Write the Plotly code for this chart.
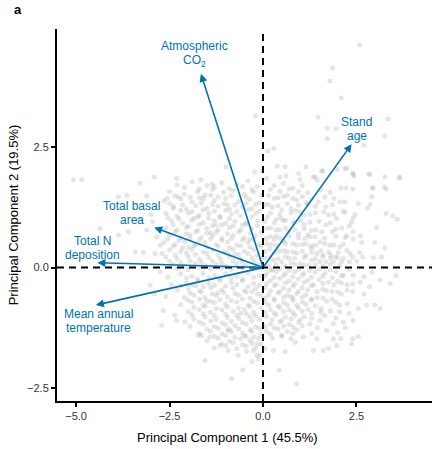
import plotly.graph_objects as go

# ---- PCA scores (gray cloud) ----
score_pairs = [
    # sparse top / outliers
    (2.59, 4.62), (1.86, 4.14), (1.79, 3.87), (2.09, 3.52), (1.47, 3.12), (3.34, 3.08), (-0.21, 3.15),
    (1.71, 2.89), (1.95, 2.88), (1.71, 2.67), (3.26, 2.73), (2.70, 2.54), (0.29, 2.47), (0.13, 2.42),
    (0.59, 2.09), (1.15, 2.09), (-0.22, 1.98), (-0.03, 2.0), (2.40, 1.96), (2.83, 1.94), (3.26, 1.88),
    (3.66, 1.88), (-0.99, 2.09), (-1.36, 1.73), (0.45, 1.88), (0.99, 1.82), (1.39, 1.88), (1.57, 2.01),
    (1.98, 2.04), (2.19, 2.05), (2.43, 1.90), (2.94, 1.65), (3.24, 1.67),
    # upper right
    (1.34, 1.88), (1.45, 1.81), (1.60, 2.0), (2.24, 2.06), (2.41, 1.93), (2.86, 1.93), (3.64, 1.86),
    (2.08, 1.65), (2.22, 1.65), (2.40, 1.63), (2.93, 1.65), (3.29, 1.63), (2.91, 1.47), (2.06, 1.36),
    (2.19, 1.36), (2.55, 1.33), (2.86, 1.31), (2.79, 1.23), (1.48, 1.36), (1.68, 1.26), (2.15, 1.17),
    (1.63, 1.16), (1.75, 1.09), (2.46, 1.10), (2.41, 1.02), (2.37, 0.94), (1.97, 1.02), (3.29, 1.12),
    (3.47, 1.07), (3.59, 1.0), (3.04, 0.83), (1.68, 0.89), (2.10, 0.82), (2.31, 0.86), (1.42, 0.78),
    (1.57, 0.74), (1.86, 0.74), (2.24, 0.66), (2.41, 0.74), (2.61, 0.66), (2.41, 0.59), (2.64, 0.52),
    (2.99, 0.52), (3.26, 0.41), (1.39, 0.64), (1.52, 0.53), (1.79, 0.46), (2.06, 0.43), (2.24, 0.36),
    (2.01, 0.31), (2.33, 0.29), (2.59, 0.31), (1.30, 0.40), (1.44, 0.29), (1.61, 0.26), (1.81, 0.26),
    (1.93, 0.22), (2.15, 0.19), (2.40, 0.22), (2.67, 0.22), (2.95, 0.21), (3.17, 0.22), (1.30, 0.15),
    (1.52, 0.12), (1.68, 0.12), (1.88, 0.12), (2.10, 0.12), (2.31, 0.12), (2.51, 0.13), (2.91, -0.10),
    (3.56, -0.17), (1.39, -0.10), (1.66, -0.12), (1.95, -0.09), (2.15, -0.16), (2.41, -0.16),
    # upper, x 0..1.3
    (0.1, 1.85), (0.3, 1.7), (0.55, 1.75), (0.8, 1.65), (1.05, 1.7), (1.2, 1.55), (0.15, 1.5),
    (0.4, 1.45), (0.65, 1.5), (0.9, 1.4), (1.15, 1.35), (0.05, 1.3), (0.25, 1.25), (0.5, 1.2),
    (0.75, 1.22), (1.0, 1.15), (1.25, 1.1), (0.12, 1.05), (0.35, 1.0), (0.6, 0.98), (0.85, 0.95),
    (1.1, 0.9), (0.2, 0.82), (0.45, 0.78), (0.7, 0.75), (0.95, 0.7), (1.2, 0.68), (0.08, 0.6),
    (0.3, 0.58), (0.55, 0.55), (0.8, 0.5), (1.05, 0.48), (1.28, 0.45), (0.18, 0.38), (0.42, 0.35),
    (0.65, 0.32), (0.9, 0.3), (1.15, 0.25), (0.05, 0.2), (0.28, 0.15), (0.5, 0.12), (0.75, 0.1),
    (1.0, 0.08), (1.22, 0.05), (0.15, 0.03), (0.62, 1.9), (0.38, 2.1), (0.95, 1.95), (0.7, 0.2),
    (0.35, 0.65), (0.48, 1.02), (0.88, 1.18), (0.22, 0.48), (1.12, 0.6),
    # upper right, interleaved
    (0.2, 1.62), (0.45, 1.58), (0.7, 1.63), (0.95, 1.57), (1.55, 1.61), (1.8, 1.56),
    (0.3, 1.44), (0.55, 1.48), (0.8, 1.43), (1.05, 1.47), (1.3, 1.42), (1.65, 1.46), (1.9, 1.43),
    (0.15, 1.31), (0.4, 1.28), (0.65, 1.33), (0.95, 1.29), (1.2, 1.32), (1.4, 1.27), (1.85, 1.31),
    (0.2, 1.13), (0.45, 1.10), (0.75, 1.14), (1.1, 1.09), (1.4, 1.13), (1.9, 1.11), (2.2, 1.14),
    (0.05, 0.96), (0.3, 0.93), (0.55, 0.97), (0.8, 0.92), (1.0, 0.97), (1.25, 0.94), (1.5, 0.96), (1.8, 0.93),
    (0.1, 0.81), (0.35, 0.78), (0.6, 0.82), (0.85, 0.79), (1.1, 0.81), (1.3, 0.77), (1.95, 0.80),
    (0.2, 0.64), (0.45, 0.61), (0.7, 0.65), (0.95, 0.62), (1.25, 0.64), (1.65, 0.61), (1.95, 0.65), (2.2, 0.62),
    (0.1, 0.49), (0.35, 0.46), (0.6, 0.50), (0.9, 0.47), (1.15, 0.49), (1.4, 0.46), (1.65, 0.50),
    (1.9, 0.47), (2.15, 0.49), (0.05, 0.34), (0.3, 0.31), (0.55, 0.35), (0.8, 0.32), (1.05, 0.34),
    (1.3, 0.31), (1.55, 0.35), (1.75, 0.32), (0.2, 0.21), (0.4, 0.18), (0.6, 0.22), (0.85, 0.19),
    (1.1, 0.21), (1.4, 0.18), (1.6, 0.22), (1.8, 0.19), (2.0, 0.21), (0.35, 0.06), (0.6, 0.03),
    (0.85, 0.07), (1.1, 0.04), (1.4, 0.06), (1.6, 0.03), (1.8, 0.07), (2.05, 0.04),
    # upper left sparse
    (-5.07, 1.82), (-4.85, 1.82), (-3.29, 1.75), (-2.91, 1.88), (-2.31, 1.85), (-3.87, 1.47),
    (-3.64, 1.50), (-3.11, 1.49), (-2.57, 1.43), (-2.26, 1.47), (-2.40, 1.23), (-4.36, 0.81),
    (-3.60, 0.74), (-3.87, 0.67), (-3.11, 0.78), (-3.42, 0.32), (-3.20, 0.31), (-2.89, 0.29),
    (-2.75, 0.46), (-2.84, 0.64), (-2.75, -0.09), (-1.66, 1.82), (-3.0, 1.1), (-3.3, 1.0), (-2.95, 0.95),
    # upper left dense
    (-2.3, 1.72), (-1.9, 1.78), (-1.5, 1.70), (-1.1, 1.76), (-0.7, 1.73), (-0.4, 1.80), (-0.15, 1.68),
    (-2.5, 1.57), (-2.1, 1.52), (-1.75, 1.58), (-1.4, 1.50), (-1.05, 1.56), (-0.8, 1.60), (-0.5, 1.52),
    (-0.25, 1.57), (-2.65, 1.38), (-2.2, 1.42), (-1.9, 1.36), (-1.6, 1.43), (-1.3, 1.39), (-1.0, 1.44),
    (-0.65, 1.37), (-0.35, 1.41), (-0.1, 1.35), (-2.4, 1.27), (-2.05, 1.22), (-1.8, 1.28), (-1.5, 1.23),
    (-1.2, 1.27), (-0.9, 1.21), (-0.55, 1.26), (-0.3, 1.22), (-2.6, 1.12), (-2.3, 1.07), (-2.0, 1.13),
    (-1.7, 1.08), (-1.45, 1.12), (-1.15, 1.06), (-0.85, 1.11), (-0.6, 1.07), (-0.2, 1.12),
    (-2.45, 0.97), (-2.15, 0.92), (-1.9, 0.98), (-1.6, 0.93), (-1.3, 0.97), (-1.0, 0.92),
    (-0.75, 0.96), (-0.45, 0.93), (-0.15, 0.97), (-2.6, 0.82), (-2.3, 0.78), (-2.05, 0.83),
    (-1.75, 0.77), (-1.5, 0.81), (-1.2, 0.78), (-0.9, 0.83), (-0.6, 0.78), (-0.3, 0.81),
    (-2.5, 0.67), (-2.2, 0.62), (-1.95, 0.68), (-1.65, 0.63), (-1.35, 0.66), (-1.1, 0.61),
    (-0.8, 0.67), (-0.5, 0.62), (-0.2, 0.66), (-2.65, 0.52), (-2.35, 0.48), (-2.1, 0.53),
    (-1.8, 0.47), (-1.55, 0.52), (-1.25, 0.48), (-0.95, 0.53), (-0.7, 0.47), (-0.4, 0.52),
    (-0.1, 0.48), (-2.5, 0.37), (-2.2, 0.33), (-1.9, 0.38), (-1.6, 0.32), (-1.35, 0.36),
    (-1.05, 0.33), (-0.8, 0.38), (-0.5, 0.33), (-0.25, 0.37), (-2.6, 0.22), (-2.3, 0.18),
    (-2.0, 0.23), (-1.7, 0.17), (-1.45, 0.21), (-1.15, 0.18), (-0.9, 0.23), (-0.6, 0.17),
    (-0.3, 0.21), (-0.05, 0.18), (-2.4, 0.07), (-2.1, 0.03), (-1.8, 0.08), (-1.55, 0.04),
    (-1.25, 0.07), (-1.0, 0.03), (-0.7, 0.08), (-0.45, 0.04), (-0.15, 0.07),
    (-1.35, 1.62), (-0.95, 1.30), (-1.85, 1.02), (-0.55, 0.88), (-1.4, 0.72), (-2.0, 0.42),
    (-0.75, 0.28), (-1.7, 1.45), (-1.25, 0.88), (-0.35, 0.58),
    # upper left, interleaved
    (-2.1, 1.66), (-1.7, 1.63), (-1.3, 1.67), (-0.9, 1.64), (-0.55, 1.68), (-0.3, 1.62),
    (-2.35, 1.49), (-1.95, 1.46), (-1.55, 1.50), (-1.2, 1.47), (-0.85, 1.49), (-0.45, 1.46), (-0.05, 1.50),
    (-2.5, 1.33), (-2.15, 1.30), (-1.65, 1.34), (-1.35, 1.31), (-1.05, 1.33), (-0.75, 1.30),
    (-0.45, 1.34), (-0.2, 1.31), (-2.2, 1.19), (-1.9, 1.16), (-1.6, 1.20), (-1.3, 1.17),
    (-1.0, 1.19), (-0.7, 1.16), (-0.4, 1.20), (-0.1, 1.17), (-2.55, 1.04), (-2.25, 1.01),
    (-1.75, 1.05), (-1.45, 1.02), (-1.15, 1.04), (-0.9, 1.01), (-0.3, 1.05), (-2.4, 0.89),
    (-2.0, 0.86), (-1.7, 0.90), (-1.35, 0.87), (-1.1, 0.89), (-0.8, 0.86), (-0.45, 0.90),
    (-0.15, 0.87), (-2.35, 0.73), (-2.05, 0.70), (-1.8, 0.74), (-1.5, 0.71), (-1.25, 0.73),
    (-0.95, 0.70), (-0.65, 0.74), (-0.35, 0.71), (-0.05, 0.73), (-2.55, 0.59), (-2.25, 0.56),
    (-1.95, 0.60), (-1.7, 0.57), (-1.4, 0.59), (-1.1, 0.56), (-0.85, 0.60), (-0.55, 0.57),
    (-0.25, 0.59), (-2.4, 0.44), (-2.15, 0.41), (-1.85, 0.45), (-1.5, 0.42), (-1.2, 0.44),
    (-0.9, 0.41), (-0.6, 0.45), (-0.35, 0.42), (-0.05, 0.44), (-2.7, 0.29), (-2.35, 0.26),
    (-2.05, 0.30), (-1.8, 0.27), (-1.5, 0.29), (-1.2, 0.26), (-0.95, 0.30), (-0.65, 0.27),
    (-0.4, 0.29), (-0.15, 0.26), (-2.5, 0.13), (-2.2, 0.10), (-1.95, 0.14), (-1.65, 0.11),
    (-1.35, 0.13), (-1.1, 0.10), (-0.8, 0.14), (-0.55, 0.11), (-0.25, 0.13), (-2.3, -0.02),
    (-2.0, -0.04), (-1.7, 0.0), (-1.4, -0.03), (-1.1, -0.01), (-0.85, -0.04), (-0.55, 0.0),
    (-0.3, -0.03), (-0.05, -0.01),
    # lower left sparse
    (-3.02, -0.37), (-2.54, -0.2), (-2.67, -0.89), (-2.71, -1.2), (-2.31, -1.10), (-2.36, -0.99),
    (-2.09, -1.13), (-2.9, -0.55), (-2.6, -0.6), (-2.45, -0.35),
    # lower left dense
    (-2.2, -0.13), (-1.9, -0.18), (-1.6, -0.12), (-1.3, -0.17), (-1.0, -0.13), (-0.7, -0.18),
    (-0.4, -0.12), (-0.1, -0.17), (-2.05, -0.32), (-1.75, -0.28), (-1.45, -0.33), (-1.15, -0.27),
    (-0.85, -0.31), (-0.55, -0.28), (-0.25, -0.33), (-2.3, -0.47), (-2.0, -0.43), (-1.7, -0.48),
    (-1.4, -0.42), (-1.1, -0.46), (-0.8, -0.43), (-0.5, -0.48), (-0.2, -0.44), (-2.1, -0.62),
    (-1.85, -0.57), (-1.55, -0.62), (-1.25, -0.58), (-0.95, -0.61), (-0.65, -0.57), (-0.35, -0.63),
    (-0.05, -0.58), (-2.2, -0.77), (-1.9, -0.72), (-1.6, -0.78), (-1.3, -0.73), (-1.0, -0.76),
    (-0.7, -0.72), (-0.4, -0.78), (-0.15, -0.73), (-2.0, -0.92), (-1.7, -0.87), (-1.4, -0.93),
    (-1.1, -0.88), (-0.8, -0.91), (-0.5, -0.87), (-0.25, -0.93), (-1.85, -1.07), (-1.55, -1.02),
    (-1.25, -1.08), (-0.95, -1.03), (-0.65, -1.06), (-0.35, -1.02), (-0.1, -1.08), (-1.95, -1.22),
    (-1.6, -1.17), (-1.3, -1.23), (-1.0, -1.18), (-0.75, -1.21), (-0.45, -1.17), (-0.2, -1.23),
    (-1.7, -1.37), (-1.4, -1.32), (-1.1, -1.38), (-0.85, -1.33), (-0.55, -1.36), (-0.3, -1.32),
    (-0.05, -1.38), (-1.5, -1.52), (-1.2, -1.47), (-0.9, -1.53), (-0.6, -1.48), (-0.35, -1.51),
    (-0.12, -1.47), (-1.3, -1.67), (-1.0, -1.62), (-0.7, -1.68), (-0.45, -1.63), (-0.2, -1.66),
    (-1.73, -1.41), (-1.64, -1.41), (-1.42, -1.44), (-1.15, -1.62), (-0.93, -1.72), (-0.66, -1.82),
    (-0.44, -1.74), (-0.26, -1.72), (-0.17, -1.82), (-0.08, -1.81), (-0.13, -1.90), (-0.3, -1.95),
    (-1.55, -1.93), (-0.84, -2.31), (-0.54, -2.12), (-1.2, -0.52), (-0.6, -0.95), (-1.5, -0.7),
    (-0.3, -0.5), (-0.9, -1.28), (-1.8, -0.38), (-0.45, -1.42), (-0.15, -1.58),
    # lower left, interleaved
    (-2.05, -0.22), (-1.75, -0.24), (-1.45, -0.20), (-1.15, -0.23), (-0.85, -0.21), (-0.55, -0.24),
    (-0.25, -0.20), (-2.2, -0.38), (-1.9, -0.36), (-1.6, -0.40), (-1.3, -0.37), (-1.0, -0.39),
    (-0.7, -0.36), (-0.4, -0.40), (-0.1, -0.37), (-1.95, -0.53), (-1.65, -0.51), (-1.35, -0.55),
    (-1.05, -0.52), (-0.75, -0.54), (-0.45, -0.51), (-0.15, -0.55), (-2.0, -0.68), (-1.7, -0.66),
    (-1.4, -0.70), (-1.15, -0.67), (-0.85, -0.69), (-0.55, -0.66), (-0.25, -0.70), (-1.85, -0.83),
    (-1.55, -0.81), (-1.25, -0.85), (-0.95, -0.82), (-0.65, -0.84), (-0.35, -0.81), (-0.05, -0.85),
    (-1.9, -0.98), (-1.6, -0.96), (-1.3, -1.00), (-1.0, -0.97), (-0.7, -0.99), (-0.45, -0.96),
    (-0.2, -1.00), (-1.7, -1.13), (-1.4, -1.11), (-1.1, -1.15), (-0.85, -1.12), (-0.55, -1.14),
    (-0.3, -1.11), (-1.5, -1.28), (-1.2, -1.26), (-0.95, -1.30), (-0.65, -1.27), (-0.35, -1.29),
    (-0.1, -1.26), (-1.3, -1.43), (-1.0, -1.41), (-0.75, -1.45), (-0.5, -1.42), (-0.25, -1.44),
    (-1.1, -1.58), (-0.8, -1.56), (-0.55, -1.60), (-0.3, -1.57), (-0.05, -1.59),
    # lower right x 0..1.4
    (0.1, -0.12), (0.35, -0.08), (0.6, -0.13), (0.85, -0.09), (1.1, -0.12), (0.2, -0.27),
    (0.45, -0.23), (0.7, -0.28), (0.95, -0.24), (1.2, -0.27), (0.05, -0.42), (0.3, -0.38),
    (0.55, -0.43), (0.8, -0.39), (1.05, -0.42), (1.3, -0.38), (0.15, -0.57), (0.4, -0.53),
    (0.65, -0.58), (0.9, -0.54), (1.15, -0.57), (0.05, -0.72), (0.3, -0.68), (0.55, -0.73),
    (0.8, -0.69), (1.05, -0.72), (1.3, -0.68), (0.2, -0.87), (0.45, -0.83), (0.7, -0.88),
    (0.95, -0.84), (1.2, -0.87), (0.1, -1.02), (0.35, -0.98), (0.6, -1.03), (0.85, -0.99),
    (1.1, -1.02), (0.2, -1.17), (0.45, -1.13), (0.7, -1.18), (0.95, -1.14), (1.25, -1.17),
    (0.1, -1.32), (0.4, -1.28), (0.65, -1.33), (0.9, -1.29), (0.25, -1.47), (0.5, -1.43),
    (0.75, -1.48), (0.05, -1.68), (0.28, -1.72), (0.59, -1.75), (0.86, -1.55), (1.08, -1.44),
    (1.30, -1.37), (0.43, -2.13), (0.90, -2.41), (0.25, -0.05), (0.75, -0.6),
    # lower right, interleaved
    (0.2, -0.05), (0.45, -0.03), (0.7, -0.06), (0.95, -0.04), (1.25, -0.06), (1.5, -0.03),
    (1.8, -0.05), (2.3, -0.04), (0.05, -0.18), (0.3, -0.20), (0.55, -0.17), (0.8, -0.19),
    (1.05, -0.16), (1.3, -0.20), (1.6, -0.18), (1.85, -0.21), (2.1, -0.17), (2.7, -0.19),
    (0.1, -0.33), (0.35, -0.35), (0.6, -0.32), (0.85, -0.34), (1.1, -0.31), (1.35, -0.35),
    (1.6, -0.33), (1.9, -0.36), (2.1, -0.32), (2.4, -0.34), (0.2, -0.48), (0.45, -0.50),
    (0.7, -0.47), (0.95, -0.49), (1.2, -0.46), (1.45, -0.50), (1.7, -0.48), (2.0, -0.51),
    (2.25, -0.47), (0.05, -0.63), (0.3, -0.65), (0.55, -0.62), (0.8, -0.64), (1.05, -0.61),
    (1.3, -0.65), (1.6, -0.63), (1.85, -0.66), (0.15, -0.78), (0.4, -0.80), (0.65, -0.77),
    (0.9, -0.79), (1.15, -0.76), (1.4, -0.80), (2.05, -0.78), (0.05, -0.93), (0.3, -0.95),
    (0.55, -0.92), (0.8, -0.94), (1.05, -0.91), (1.3, -0.95), (1.55, -0.93), (0.25, -1.08),
    (0.5, -1.10), (0.75, -1.07), (1.0, -1.09), (1.3, -1.06), (0.05, -1.23), (0.3, -1.25),
    (0.55, -1.22), (0.8, -1.24), (1.05, -1.21), (0.2, -1.38), (0.5, -1.40), (0.8, -1.37),
    # lower right beyond 1.4
    (3.13, -0.26), (3.4, -0.33), (2.99, -0.78), (3.13, -0.85), (2.77, -0.78), (2.55, -0.85),
    (2.41, -1.10), (2.55, -1.43), (2.41, -1.48), (2.37, -1.58), (2.08, -1.48), (1.88, -1.48),
    (1.97, -1.62), (1.61, -1.72), (1.75, -1.68), (1.35, -1.72), (1.44, -1.48), (2.15, -1.13),
    (1.88, -1.16), (1.52, -1.10), (1.5, -0.25), (1.75, -0.3), (2.0, -0.28), (2.25, -0.35),
    (2.6, -0.3), (2.85, -0.4), (1.6, -0.45), (1.85, -0.5), (2.1, -0.55), (2.4, -0.5), (2.7, -0.55),
    (1.45, -0.62), (1.7, -0.7), (1.95, -0.72), (2.25, -0.75), (1.55, -0.85), (1.8, -0.9),
    (2.05, -0.92), (2.3, -0.95), (1.65, -1.0), (1.95, -1.05), (2.2, -1.25), (1.7, -1.3),
    (1.45, -1.25), (2.0, -1.35),
]
pc1_scores = [p[0] for p in score_pairs]
pc2_scores = [p[1] for p in score_pairs]

# ---- loadings (arrows) ----
variables = ["Atmospheric CO2", "Stand age", "Total basal area", "Total N deposition",
             "Mean annual temperature"]
load_pc1 = [-1.66, 2.37, -2.91, -4.43, -4.47]
load_pc2 = [4.02, 2.56, 0.83, 0.10, -0.78]
label_line1 = ["Atmospheric", "Stand", "Total basal", "Total N", "Mean annual"]
label_line2 = ["CO<sub>2</sub>", "age", "area", "deposition", "temperature"]
label_pc1 = [-1.84, 2.51, -3.51, -4.55, -4.41]
label_pc2 = [4.45, 2.87, 1.13, 0.41, -1.12]

x_ticks = [-5.0, -2.5, 0.0, 2.5]
x_tick_text = ["\u22125.0", "\u22122.5", "0.0", "2.5"]
y_ticks = [-2.5, 0.0, 2.5]
y_tick_text = ["\u22122.5", "0.0", "2.5"]
x_range = [-5.51, 4.52]
y_range = [-2.77, 4.95]

BLUE = "#0072B2"
FONT = "Liberation Sans, Arial, sans-serif"

fig = go.Figure()
fig.add_trace(go.Scatter(
    x=pc1_scores, y=pc2_scores, mode="markers",
    marker=dict(size=5, color="rgba(175,175,175,0.32)", line=dict(width=0)),
    hoverinfo="skip", showlegend=False))

# dashed reference lines
fig.add_trace(go.Scatter(x=x_range, y=[0, 0], mode="lines",
                         line=dict(color="black", width=2, dash="7px,5px"),
                         showlegend=False, hoverinfo="skip"))
fig.add_trace(go.Scatter(x=[0, 0], y=y_range, mode="lines",
                         line=dict(color="black", width=2, dash="7px,5px"),
                         showlegend=False, hoverinfo="skip"))

annotations = []
for x1, y1 in zip(load_pc1, load_pc2):
    annotations.append(dict(x=x1, y=y1, ax=0, ay=0, xref="x", yref="y", axref="x", ayref="y",
                            text="", showarrow=True, arrowhead=2, arrowsize=1.0,
                            arrowwidth=1.6, arrowcolor=BLUE))
for t1, t2, lx, ly in zip(label_line1, label_line2, label_pc1, label_pc2):
    annotations.append(dict(x=lx, y=ly, xref="x", yref="y", text=t1, showarrow=False,
                            yshift=7, yanchor="middle",
                            font=dict(family=FONT, size=12, color=BLUE)))
    annotations.append(dict(x=lx, y=ly, xref="x", yref="y", text=t2, showarrow=False,
                            yshift=-8 if "sub" in t2 else -7, yanchor="middle",
                            font=dict(family=FONT, size=12, color=BLUE)))
# panel tag
annotations.append(dict(x=0, y=1, xref="paper", yref="paper", text="<b>a</b>",
                        xanchor="left", yanchor="bottom", xshift=-45, yshift=10,
                        showarrow=False, font=dict(family=FONT, size=13, color="black")))
# x-axis title
annotations.append(dict(x=0.455, y=0, xref="paper", yref="paper",
                        text="Principal Component 1 (45.5%)", xanchor="center",
                        yanchor="middle", yshift=-36, showarrow=False,
                        font=dict(family=FONT, size=13, color="black")))

fig.update_layout(
    width=432, height=449,
    margin=dict(l=57, r=0, t=29, b=48),
    paper_bgcolor="white", plot_bgcolor="white",
    font=dict(family=FONT, color="black"),
    annotations=annotations,
    xaxis=dict(range=x_range, tickvals=x_ticks, ticktext=x_tick_text, showgrid=False,
               zeroline=False, showline=True, linecolor="black", linewidth=2,
               ticks="outside", ticklen=4, tickwidth=2, tickcolor="black",
               tickfont=dict(family=FONT, size=11, color="#333333")),
    yaxis=dict(range=y_range, tickvals=y_ticks, ticktext=y_tick_text, showgrid=False,
               zeroline=False, showline=True, linecolor="black", linewidth=2,
               ticks="outside", ticklen=4, tickwidth=2, tickcolor="black",
               tickfont=dict(family=FONT, size=11, color="#333333"),
               title=dict(text="Principal Component 2 (19.5%)",
                          font=dict(family=FONT, size=13, color="black"), standoff=6)),
)

fig.write_html("out.html")
